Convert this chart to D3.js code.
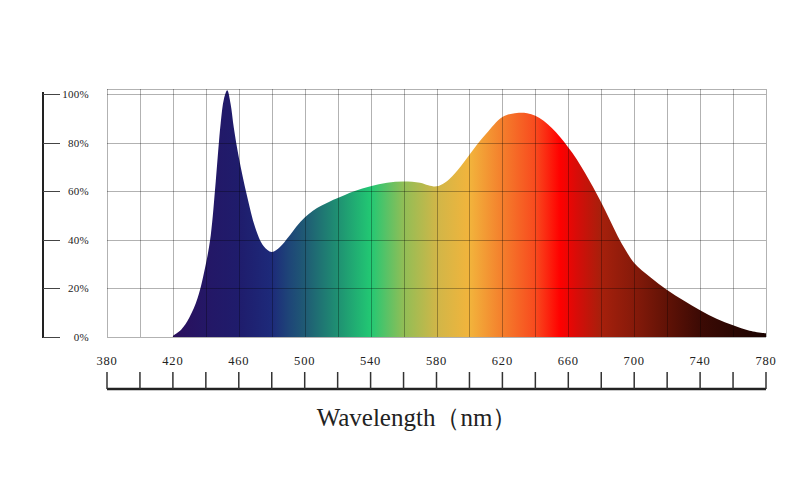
<!DOCTYPE html>
<html>
<head>
<meta charset="utf-8">
<script src="https://cdn.jsdelivr.net/npm/d3@7"></script>
<style>
  html, body { margin: 0; padding: 0; background: #fff; }
  svg { display: block; }
  text { font-family: "Liberation Serif", "DejaVu Serif", serif; fill: #222; }
</style>
</head>
<body>
<script>
// ---- data ----
const wavelengths = [420,425,430,435,440,443,446,449,451,453,455,457,460,465,470,475,480,485,490,495,500,505,510,515,520,530,540,550,560,570,575,580,585,590,595,600,605,610,615,620,625,630,635,640,645,650,655,660,665,670,675,680,685,690,695,700,710,720,730,740,750,760,770,780];
const intensity   = [0.5,3,8,16,30,42,64,88,98,101.5,96,86,74,58,45,37.5,35,37,41,45.5,49.2,52,54,55.7,57.2,60,62,63.5,64,63.5,62.5,62,63.5,66.5,70.5,75,79.5,83.5,87.5,90.5,91.8,92.3,92.1,91,89,86,82.3,78,73.3,67.7,61.7,55.3,48.5,41.5,35.5,30.5,24.5,19.3,15,11,7.5,4.8,2.6,1.5];
const xTicksMajor = [380,420,460,500,540,580,620,660,700,740,780];
const xTicksMinor = [380,400,420,440,460,480,500,520,540,560,580,600,620,640,660,680,700,720,740,760,780];
const yTicks      = [0,20,40,60,80,100];
const yTickLabels = ["0%","20%","40%","60%","80%","100%"];
const gradStopsNm = [420,440,460,480,490,500,520,540,550,560,580,600,620,640,655,665,680,700,720,740,780];
const gradStopsColor = ["#2b0f5c","#241766","#1f1c6c","#1d2a7a","#1e4478","#1f5a74","#1f9072","#22c873","#5ac266","#90be56","#d0b648","#f2b43c","#f47e2c","#f84a1e","#ff0000","#d80c08","#a6200c","#861a0a","#601206","#3c0a04","#1a0301"];
const xTitle = "Wavelength（nm）";

// ---- chart ----
const W = 800, H = 500;
const svg = d3.select("body").append("svg").attr("width", W).attr("height", H);

const x = d3.scaleLinear().domain([380, 780]).range([107, 766]);
const y = d3.scaleLinear().domain([0, 100]).range([337, 94]);
const gridTop = 89;

// gradient
const defs = svg.append("defs");
const grad = defs.append("linearGradient").attr("id", "spec")
  .attr("gradientUnits", "userSpaceOnUse")
  .attr("x1", x(380)).attr("x2", x(780)).attr("y1", 0).attr("y2", 0);
gradStopsNm.forEach((nm, i) => {
  grad.append("stop").attr("offset", (nm - 380) / 400).attr("stop-color", gradStopsColor[i]);
});

// area
const data = wavelengths.map((w, i) => ({ w, v: intensity[i] }));
const area = d3.area().x(d => x(d.w)).y0(y(0)).y1(d => y(d.v)).curve(d3.curveCatmullRom.alpha(0.5));
svg.append("path").datum(data).attr("d", area).attr("fill", "url(#spec)");

// grid on top
const grid = svg.append("g").attr("stroke", "#000").attr("stroke-opacity", 0.3).attr("stroke-width", 1).attr("fill", "none");
xTicksMinor.forEach(t => {
  grid.append("line").attr("x1", Math.round(x(t)) + 0.5).attr("x2", Math.round(x(t)) + 0.5)
    .attr("y1", gridTop).attr("y2", y(0));
});
yTicks.forEach(t => {
  grid.append("line").attr("x1", x(380)).attr("x2", x(780))
    .attr("y1", Math.round(y(t)) + 0.5).attr("y2", Math.round(y(t)) + 0.5);
});
grid.append("line").attr("x1", x(380)).attr("x2", x(780)).attr("y1", gridTop + 0.5).attr("y2", gridTop + 0.5);

// left axis
const yAxisG = svg.append("g");
yAxisG.append("line").attr("x1", 43).attr("x2", 43).attr("y1", 92).attr("y2", 338)
  .attr("stroke", "#222").attr("stroke-width", 2);
yTicks.forEach((t, i) => {
  const yy = Math.round(y(t)) + 0.5;
  yAxisG.append("line").attr("x1", 43).attr("x2", 60).attr("y1", yy).attr("y2", yy)
    .attr("stroke", "#444").attr("stroke-width", 1);
  yAxisG.append("text").attr("x", 89).attr("y", yy).attr("dy", "0.35em")
    .attr("text-anchor", "end").attr("font-size", 11).attr("letter-spacing", 0.3).text(yTickLabels[i]);
});

// bottom axis
const xAxisG = svg.append("g");
xAxisG.append("line").attr("x1", x(380)).attr("x2", x(780)).attr("y1", 389).attr("y2", 389)
  .attr("stroke", "#222").attr("stroke-width", 2.5);
xTicksMinor.forEach(t => {
  xAxisG.append("line").attr("x1", x(t)).attr("x2", x(t)).attr("y1", 372).attr("y2", 389)
    .attr("stroke", "#333").attr("stroke-width", 1.5);
});
xTicksMajor.forEach(t => {
  xAxisG.append("text").attr("x", x(t)).attr("y", 361).attr("dy", "0.35em")
    .attr("text-anchor", "middle").attr("font-size", 12.5).attr("letter-spacing", 0.8).text(t);
});

// title
svg.append("text").attr("x", 417).attr("y", 426).attr("text-anchor", "middle")
  .attr("font-size", 25).text(xTitle);
</script>
</body>
</html>
